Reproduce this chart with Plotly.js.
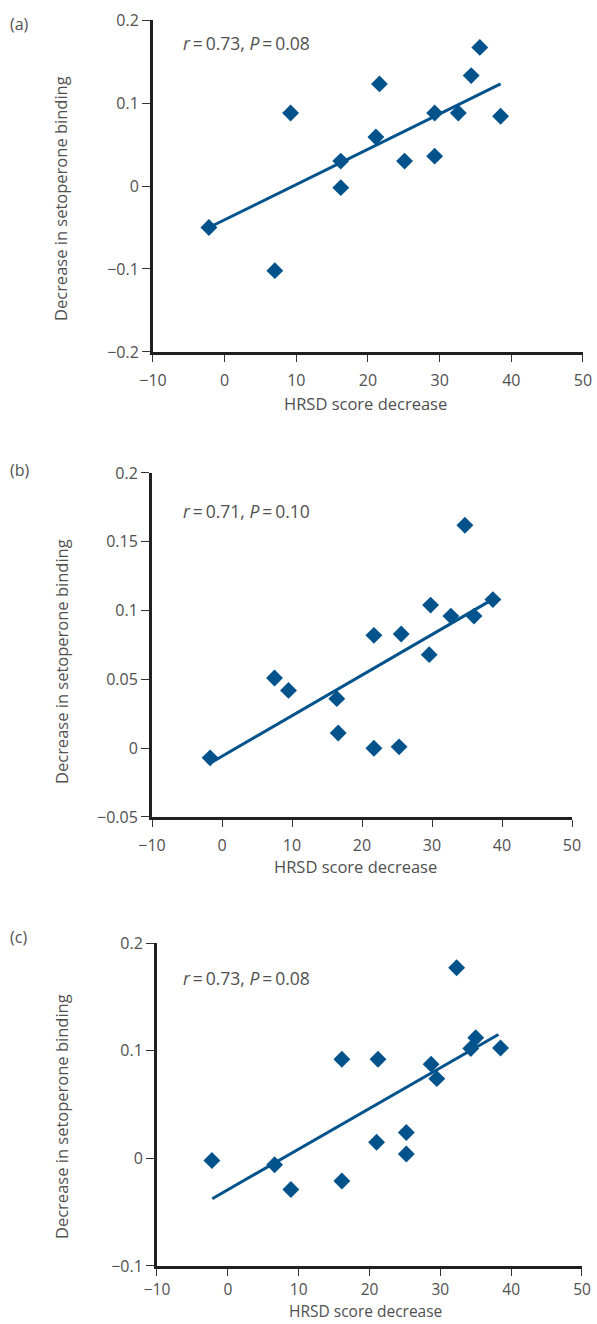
<!DOCTYPE html>
<html>
<head>
<meta charset="utf-8">
<script src="https://cdn.plot.ly/plotly-3.0.1.min.js"></script>
<style>html,body{margin:0;padding:0;background:#fff;}#chart{width:597px;height:1324px;}</style>
</head>
<body>
<div id="chart"></div>
<script>
// ---- data ----
const panelLabels = ["(a)", "(b)", "(c)"];
const statsText = ["r = 0.73, P = 0.08", "r = 0.71, P = 0.10", "r = 0.73, P = 0.08"];
const xTitle = "HRSD score decrease";
const yTitle = "Decrease in setoperone binding";

const xTickVals = [-10, 0, 10, 20, 30, 40, 50];
const xTickText = ["\u221210", "0", "10", "20", "30", "40", "50"];

const aTickVals = [-0.2, -0.1, 0, 0.1, 0.2];
const aTickText = ["\u22120.2", "\u22120.1", "0", "0.1", "0.2"];
const bTickVals = [-0.05, 0, 0.05, 0.1, 0.15, 0.2];
const bTickText = ["\u22120.05", "0", "0.05", "0.1", "0.15", "0.2"];
const cTickVals = [-0.1, 0, 0.1, 0.2];
const cTickText = ["\u22120.1", "0", "0.1", "0.2"];

const aX = [-2.2, 7.0, 9.2, 16.2, 16.2, 21.1, 21.6, 25.1, 29.3, 29.3, 32.6, 34.4, 35.6, 38.5];
const aY = [-0.050, -0.102, 0.088, 0.030, -0.002, 0.059, 0.123, 0.030, 0.088, 0.036, 0.088, 0.133, 0.167, 0.084];
const aFitX = [-2.2, 38.5];
const aFitY = [-0.050, 0.123];

const bX = [-1.7, 7.5, 9.5, 16.4, 16.6, 21.7, 21.7, 25.3, 25.6, 29.6, 29.8, 32.7, 34.7, 36.0, 38.7];
const bY = [-0.007, 0.051, 0.042, 0.036, 0.011, 0.082, 0.000, 0.001, 0.083, 0.068, 0.104, 0.096, 0.162, 0.096, 0.108];
const bFitX = [-1.4, 38.6];
const bFitY = [-0.010, 0.108];

const cX = [-2.25, 6.6, 8.9, 16.1, 16.1, 21.0, 21.2, 25.2, 25.2, 28.7, 29.5, 32.3, 34.3, 35.0, 38.5];
const cY = [-0.002, -0.006, -0.029, 0.092, -0.021, 0.015, 0.092, 0.024, 0.004, 0.0875, 0.074, 0.177, 0.102, 0.112, 0.1025];
const cFitX = [-2.2, 38.2];
const cFitY = [-0.0375, 0.115];

// ---- style ----
const BLUE = "#02538c";
const TXT = "#505050";
const FONT = "Open Sans, Liberation Sans, sans-serif";
const FS = 16;

function pts(x, y, xa, ya) {
  return {x: x, y: y, xaxis: xa, yaxis: ya, type: "scatter", mode: "markers",
    marker: {symbol: "diamond", size: 13, color: BLUE}, hoverinfo: "skip"};
}
function fit(x, y, xa, ya) {
  return {x: x, y: y, xaxis: xa, yaxis: ya, type: "scatter", mode: "lines",
    line: {color: BLUE, width: 3}, hoverinfo: "skip"};
}

const data = [
  fit(aFitX, aFitY, "x", "y"), pts(aX, aY, "x", "y"),
  fit(bFitX, bFitY, "x2", "y2"), pts(bX, bY, "x2", "y2"),
  fit(cFitX, cFitY, "x3", "y3"), pts(cX, cY, "x3", "y3")
];

function xaxis(domain, anchor, standoff, fs) {
  return {domain: domain, anchor: anchor, range: [-10, 50], tickvals: xTickVals, ticktext: xTickText,
    ticks: "outside", ticklen: 7, tickwidth: 1, tickcolor: "#333", ticklabelstandoff: standoff,
    showline: true, linewidth: 3, linecolor: "#231f20", showgrid: false, zeroline: false,
    tickfont: {family: FONT, size: fs, color: TXT}, fixedrange: true};
}
function yaxis(domain, anchor, range, tv, tt) {
  return {domain: domain, anchor: anchor, range: range, tickvals: tv, ticktext: tt,
    ticks: "outside", ticklen: 8, tickwidth: 1, tickcolor: "#333",
    showline: true, linewidth: 3, linecolor: "#231f20", showgrid: false, zeroline: false,
    tickfont: {family: FONT, size: FS, color: TXT}, fixedrange: true};
}

function stat(s) {
  return s.replace(/r = /, "<i>r</i>\u2009=\u2009").replace(/P = /, "<i>P</i>\u2009=\u2009");
}

const panelY = [0.98187, 0.64502, 0.2923];
const yTitleY = [0.8497, 0.5, 0.15634];
const xTitleY = [0.6952, 0.3459, 0.0];
const xTitleAnchor = ["middle", "middle", "bottom"];
const xTitleSize = [16.5, 16.5, 15.5];
const xTitleX = [0.6114, 0.5963, 0.6114];
const statY = [0.96752, 0.61405, 0.26133];

const annotations = [];
for (let i = 0; i < 3; i++) {
  annotations.push({xref: "paper", yref: "paper", x: 0.013, y: panelY[i], xanchor: "left", yanchor: "middle",
    text: panelLabels[i], showarrow: false, font: {family: FONT, size: FS, color: TXT}});
  annotations.push({xref: "paper", yref: "paper", x: 0.1022, y: yTitleY[i], xanchor: "center", yanchor: "middle",
    text: yTitle, textangle: -90, showarrow: false, font: {family: FONT, size: 16.5, color: TXT}});
  annotations.push({xref: "paper", yref: "paper", x: xTitleX[i], y: xTitleY[i], xanchor: "center", yanchor: xTitleAnchor[i],
    text: xTitle, showarrow: false, font: {family: FONT, size: xTitleSize[i], color: TXT}});
  annotations.push({xref: "paper", yref: "paper", x: 0.30318, y: statY[i], xanchor: "left", yanchor: "middle",
    text: stat(statsText[i]), showarrow: false, font: {family: FONT, size: 17.5, color: TXT}});
}

const layout = {
  width: 597, height: 1324,
  margin: {l: 0, r: 0, t: 0, b: 0},
  paper_bgcolor: "#fff", plot_bgcolor: "#fff",
  showlegend: false,
  xaxis: xaxis([0.25628, 0.97655], "y", 5, FS),
  yaxis: yaxis([0.73414, 0.98489], "x", [-0.2, 0.2], aTickVals, aTickText),
  xaxis2: xaxis([0.25461, 0.95812], "y2", 5, FS),
  yaxis2: yaxis([0.38293, 0.64275], "x2", [-0.05, 0.2], bTickVals, bTickText),
  xaxis3: xaxis([0.26298, 0.97487], "y3", 0, 15.5),
  yaxis3: yaxis([0.04381, 0.28776], "x3", [-0.1, 0.2], cTickVals, cTickText),
  annotations: annotations
};

Plotly.newPlot("chart", data, layout, {displayModeBar: false, staticPlot: true});
</script>
</body>
</html>
